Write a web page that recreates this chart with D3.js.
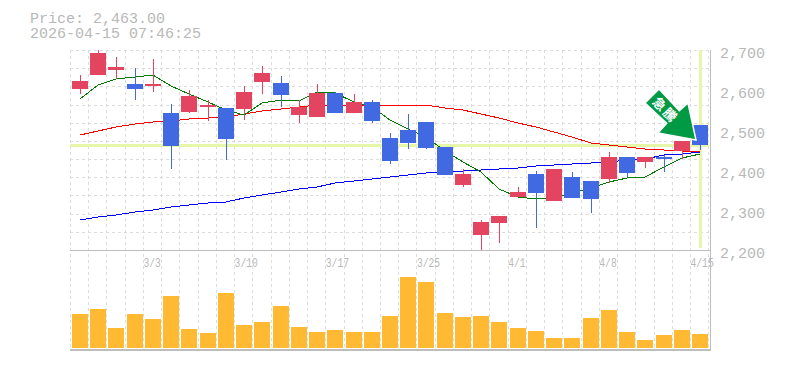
<!DOCTYPE html>
<html><head><meta charset="utf-8">
<script src="https://cdn.jsdelivr.net/npm/d3@7"></script>
<style>
html,body{margin:0;padding:0;background:#fff}
svg{display:block}
text{font-family:"Liberation Mono",monospace;fill:#b8b8b8}
</style></head><body><svg id="c" width="785" height="370"></svg>
<script>
const dates=["2/25","2/26","2/27","3/2","3/3","3/4","3/5","3/6","3/9","3/10","3/11","3/12","3/13","3/16","3/17","3/18","3/19","3/23","3/24","3/25","3/26","3/27","3/30","3/31","4/1","4/2","4/3","4/6","4/7","4/8","4/9","4/10","4/13","4/14","4/15"];
const tickDates=["3/3","3/10","3/17","3/25","4/1","4/8","4/15"];
const priceTicks=[2200,2300,2400,2500,2600,2700];
const opens=[2602.5,2637.5,2650,2615,2610,2542.5,2545,2557.5,2555,2552.5,2620,2617.5,2537.5,2532.5,2592.5,2542.5,2570,2480,2500,2520,2457.5,2362.5,2237.5,2267.5,2332.5,2390,2322.5,2382.5,2372.5,2377.5,2432.5,2420,2432.5,2447.5,2512.5];
const highs=[2637.5,2700,2682.5,2655,2677.5,2565,2600,2575,2555,2610,2660,2635,2575,2615,2595,2590,2575,2492.5,2540,2520,2457.5,2402.5,2275,2285,2357.5,2397.5,2402.5,2395,2372.5,2445,2432.5,2432.5,2437.5,2472.5,2512.5];
const lows=[2590,2637.5,2627.5,2575,2595,2402.5,2542.5,2522.5,2425,2525,2590,2557.5,2517.5,2532.5,2542.5,2542.5,2517.5,2415,2452.5,2452.5,2387.5,2357.5,2200,2217.5,2332.5,2255,2322.5,2330,2292.5,2367.5,2382.5,2405,2395,2427.5,2450];
const closes=[2622.5,2692.5,2657.5,2602.5,2615,2460,2585,2562.5,2477.5,2595,2642.5,2587.5,2557.5,2592.5,2542.5,2570,2522.5,2422.5,2467.5,2455,2387.5,2390,2270,2285,2345,2342.5,2402.5,2330,2327.5,2432.5,2392.5,2432.5,2427.5,2472.5,2462.5];
const ma5=[2577.5,2612.5,2627.5,2632.5,2637.5,2610,2590,2570,2550,2537.5,2567.5,2575,2572.5,2595,2592.5,2570,2557.5,2525,2502.5,2482.5,2447.5,2420,2395,2352.5,2332.5,2327.5,2330,2342.5,2355,2370,2380,2382.5,2407.5,2430,2440];
const ma25=[2487.5,2497.5,2507.5,2515,2520,2522.5,2527.5,2530,2532.5,2540,2547.5,2552.5,2557.5,2562.5,2562.5,2562.5,2562.5,2562.5,2562.5,2562.5,2555,2550,2540,2530,2517.5,2507.5,2495,2482.5,2467.5,2462.5,2457.5,2452.5,2450,2447.5,2445];
const ma75=[2275,2282.5,2287.5,2295,2300,2307.5,2312.5,2317.5,2320,2330,2337.5,2345,2352.5,2357.5,2367.5,2372.5,2377.5,2382.5,2387.5,2392.5,2395,2397.5,2400,2402.5,2405,2410,2412.5,2415,2417.5,2420,2425,2427.5,2437.5,2440,2445];
const volumes=[34,39,20,34,29,52,19,15,55,23,26,42,21,16,18,16,16,32,71,66,35,31,32,26,20,17,10,10,30,38,16,8,13,18,14];
const priceLabel="Price: 2,463.00", stamp="2026-04-15 07:46:25", lastPrice=2463, flag="急騰";

const svg=d3.select("#c");
const x=d3.scalePoint().domain(dates).range([80,700]);
const y=d3.scaleLinear().domain([2200,2700]).range([250,50]);
const yv=d3.scaleLinear().domain([0,100]).range([348,248]);
const cx=d=>Math.round(x(d));

// grid
const grid=svg.append("g").attr("stroke","#dcdcdc").attr("stroke-dasharray","3 3").attr("stroke-width",1.4).attr("shape-rendering","crispEdges");
grid.selectAll(".h").data(d3.range(12)).join("line").attr("x1",70).attr("x2",710)
  .attr("y1",i=>Math.round(50+i*200/11)+.5).attr("y2",i=>Math.round(50+i*200/11)+.5);
grid.selectAll(".v").data(dates).join("line").attr("y1",50).attr("y2",350)
  .attr("x1",d=>Math.round(x(d)-10)+.5).attr("x2",d=>Math.round(x(d)-10)+.5);
grid.append("line").attr("y1",50).attr("y2",350).attr("x1",708.5).attr("x2",708.5);

// highlights
svg.append("rect").attr("x",70).attr("width",639).attr("y",Math.round(y(lastPrice))-1).attr("height",3).attr("fill","#e6f7aa");
svg.append("rect").attr("x",cx("4/15")-1).attr("width",3).attr("y",50).attr("height",198).attr("fill","#e6f7aa");

// moving averages
const line=d3.line().x((d,i)=>cx(dates[i])).y(d=>y(d));
[[ma75,"#0000ff"],[ma25,"#ff0000"],[ma5,"#007a00"]].forEach(([s,c])=>{
  svg.append("path").attr("d",line(s)).attr("fill","none").attr("stroke",c).attr("stroke-width",1).attr("shape-rendering","crispEdges");
});

// candles
const up="#e34560",down="#4169e1";
const col=i=>closes[i]>=opens[i]?up:down;
svg.append("g").selectAll("rect").data(dates).join("rect")
  .attr("x",d=>cx(d)).attr("width",1).attr("shape-rendering","crispEdges")
  .attr("y",(d,i)=>y(highs[i])).attr("height",(d,i)=>y(lows[i])-y(highs[i]))
  .attr("fill",(d,i)=>col(i));
svg.append("g").selectAll("rect").data(dates).join("rect")
  .attr("x",d=>cx(d)-8).attr("width",16).attr("shape-rendering","crispEdges")
  .attr("y",(d,i)=>y(Math.max(opens[i],closes[i])))
  .attr("height",(d,i)=>Math.abs(y(opens[i])-y(closes[i])))
  .attr("fill",(d,i)=>col(i));

// volume
svg.append("g").selectAll("rect").data(dates).join("rect")
  .attr("x",d=>cx(d)-8).attr("width",16).attr("shape-rendering","crispEdges")
  .attr("y",(d,i)=>yv(volumes[i])).attr("height",(d,i)=>yv(0)-yv(volumes[i]))
  .attr("fill","#ffb933");

// frame
const frame=svg.append("g").attr("stroke","#bdbdbd").attr("stroke-width",1).attr("shape-rendering","crispEdges");
frame.append("line").attr("x1",70).attr("x2",710).attr("y1",250.5).attr("y2",250.5);
frame.append("line").attr("x1",70).attr("x2",711).attr("y1",349.5).attr("y2",349.5);
frame.append("line").attr("x1",70).attr("x2",711).attr("y1",350.5).attr("y2",350.5);
frame.append("line").attr("x1",710.5).attr("x2",710.5).attr("y1",50).attr("y2",351);

// axes
const ay=svg.append("g").attr("transform","translate(720,3)").call(d3.axisRight(y).tickValues(priceTicks).tickFormat(d3.format(",")).tickSize(0).tickPadding(0));
ay.select(".domain").remove();
ay.selectAll("text").style("font-size","15px");
const ax=svg.append("g").attr("transform","translate(-10,267)").call(d3.axisBottom(x).tickValues(tickDates).tickSize(0).tickPadding(0));
ax.select(".domain").remove();
ax.selectAll("text").style("font-size","12px").attr("y",0).attr("dy",0).attr("text-anchor","start")
  .attr("textLength",d=>d.length*5.8).attr("lengthAdjust","spacingAndGlyphs");

// header
svg.append("text").attr("x",30).attr("y",23).style("font-size","15px").text(priceLabel);
svg.append("text").attr("x",30).attr("y",38).style("font-size","15px").text(stamp);

// arrow annotation
const arrow=svg.append("g");
arrow.append("polygon")
  .attr("points","659,89 645,103 666.7,123.3 658,133 696,140 688,103 679.3,110.7")
  .attr("fill","#009944").attr("stroke","#fff").attr("stroke-width",1.5).attr("stroke-linejoin","miter");
arrow.append("text").attr("transform","translate(666,109.5) rotate(45)")
  .attr("text-anchor","middle").attr("dominant-baseline","central")
  .style("font-family","'Noto Sans CJK JP'").style("font-size","13px").style("font-weight","700").style("fill","#fff").style("letter-spacing","2px")
  .text(flag);
</script></body></html>
